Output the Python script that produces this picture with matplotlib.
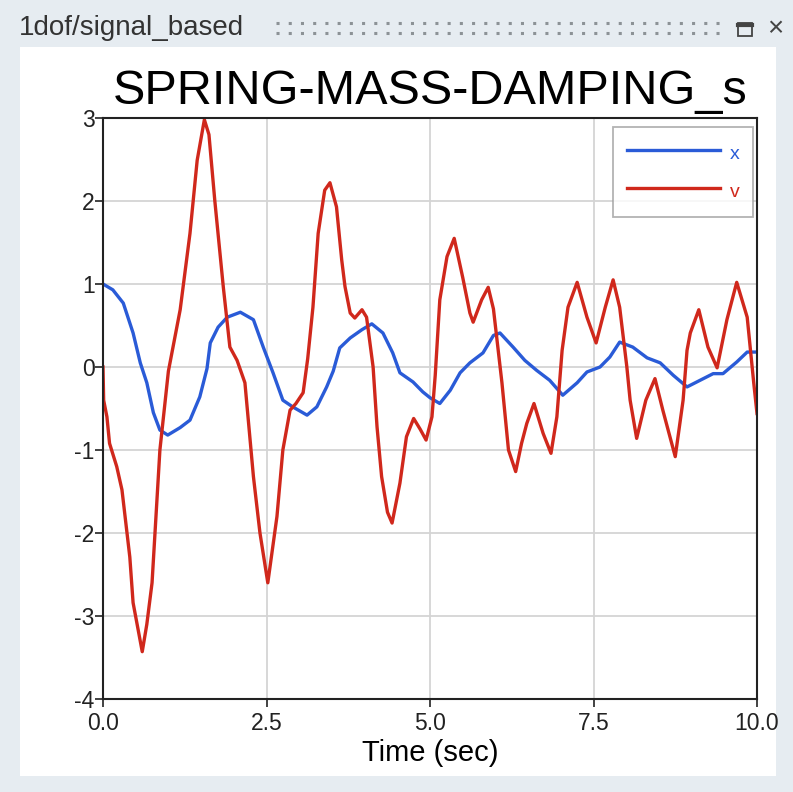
### Imports ###
import matplotlib
matplotlib.use('Agg')
import matplotlib.pyplot as plt
from matplotlib.patches import Rectangle
from matplotlib.lines import Line2D

### Data ###
# Displacement x(t)
t_x = [0.0, 0.15, 0.31, 0.46, 0.57, 0.67, 0.77, 0.87, 0.99, 1.18, 1.33, 1.48,
       1.59, 1.64, 1.76, 1.9, 2.1, 2.3, 2.45, 2.6, 2.75, 2.9, 3.12, 3.27,
       3.42, 3.52, 3.62, 3.78, 3.96, 4.11, 4.28, 4.43, 4.54, 4.74, 4.89, 5.0,
       5.15, 5.31, 5.46, 5.61, 5.81, 5.97, 6.07, 6.27, 6.45, 6.63, 6.83, 7.03,
       7.25, 7.4, 7.6, 7.75, 7.9, 8.1, 8.32, 8.52, 8.72, 8.93, 9.13, 9.33,
       9.48, 9.69, 9.85, 10.0]
x_vals = [1.0, 0.93, 0.77, 0.41, 0.05, -0.19, -0.55, -0.76, -0.82, -0.73,
          -0.64, -0.36, -0.02, 0.29, 0.48, 0.6, 0.66, 0.57, 0.24, -0.07, -0.4,
          -0.48, -0.58, -0.48, -0.24, -0.05, 0.23, 0.35, 0.45, 0.52, 0.41,
          0.17, -0.07, -0.18, -0.3, -0.37, -0.44, -0.28, -0.07, 0.05, 0.17,
          0.38, 0.41, 0.24, 0.08, -0.04, -0.16, -0.34, -0.19, -0.06, 0.0,
          0.12, 0.3, 0.24, 0.11, 0.05, -0.1, -0.24, -0.16, -0.08, -0.08, 0.06,
          0.18, 0.18]

# Velocity v(t)
t_v = [0.0, 0.01, 0.06, 0.1, 0.21, 0.29, 0.41, 0.46, 0.6, 0.67, 0.75, 0.87,
       1.0, 1.18, 1.33, 1.44, 1.55, 1.62, 1.71, 1.84, 1.94, 2.05, 2.17, 2.3,
       2.4, 2.52, 2.66, 2.75, 2.86, 2.95, 3.06, 3.13, 3.21, 3.29, 3.39, 3.47,
       3.57, 3.65, 3.7, 3.78, 3.85, 3.96, 4.03, 4.13, 4.19, 4.26, 4.35, 4.42,
       4.54, 4.64, 4.75, 4.85, 4.94, 5.03, 5.08, 5.15, 5.26, 5.37, 5.5, 5.61,
       5.66, 5.79, 5.89, 5.97, 6.1, 6.2, 6.31, 6.4, 6.48, 6.59, 6.73, 6.85,
       6.94, 7.02, 7.11, 7.25, 7.4, 7.54, 7.68, 7.8, 7.9, 8.01, 8.06, 8.16,
       8.3, 8.44, 8.56, 8.75, 8.87, 8.93, 8.98, 9.11, 9.25, 9.39, 9.54, 9.69,
       9.85, 9.95, 10.0]
v_vals = [0.0, -0.4, -0.6, -0.92, -1.2, -1.48, -2.29, -2.84, -3.43, -3.1,
          -2.6, -1.0, -0.05, 0.69, 1.61, 2.49, 2.98, 2.8, 2.0, 0.96, 0.24,
          0.08, -0.19, -1.32, -2.0, -2.6, -1.8, -1.0, -0.52, -0.44, -0.31,
          0.1, 0.72, 1.61, 2.13, 2.22, 1.93, 1.29, 0.97, 0.65, 0.59, 0.69,
          0.6, 0.0, -0.72, -1.32, -1.75, -1.88, -1.4, -0.84, -0.62, -0.75,
          -0.88, -0.6, -0.1, 0.81, 1.33, 1.55, 1.08, 0.65, 0.54, 0.81, 0.96,
          0.7, -0.19, -1.0, -1.26, -0.92, -0.68, -0.44, -0.8, -1.04, -0.6,
          0.2, 0.72, 1.02, 0.6, 0.29, 0.72, 1.05, 0.72, 0.0, -0.4, -0.86,
          -0.4, -0.14, -0.52, -1.08, -0.4, 0.2, 0.41, 0.69, 0.24, -0.01, 0.57,
          1.02, 0.6, -0.19, -0.56]

x_ticks = [0.0, 2.5, 5.0, 7.5, 10.0]
x_tick_labels = ['0.0', '2.5', '5.0', '7.5', '10.0']
y_ticks = [3, 2, 1, 0, -1, -2, -3, -4]

### Style ###
plt.rcParams['font.family'] = ['Liberation Sans', 'DejaVu Sans']
BLUE = '#2a5bd7'
RED = '#d0281c'
W, H = 793, 792

### Figure ###
fig = plt.figure(figsize=(W / 100, H / 100), dpi=100, facecolor='#e6ecf1')

# White panel behind the plot
fig.patches.append(Rectangle((20 / W, 1 - 776 / H), 756 / W, 729 / H,
                             transform=fig.transFigure, facecolor='white',
                             edgecolor='none', zorder=-5))

# Window title bar
fig.text(19 / W, 1 - 28 / H, '1dof/signal_based', fontsize=20,
         color='#333333', va='center', ha='left')
# Grip dots (two rows)
for yy in (23, 33):
    fig.add_artist(Line2D([276 / W, 724 / W], [1 - yy / H] * 2,
                          transform=fig.transFigure, color='#8c9296', lw=2.2,
                          linestyle=(0, (1, 3))))
fig.patches.append(Rectangle((738 / W, 1 - 36 / H), 14 / W, 13 / H,
                             transform=fig.transFigure, facecolor='none',
                             edgecolor='#444444', lw=1.3))
fig.add_artist(Line2D([738 / W, 752 / W], [1 - 24.5 / H] * 2,
                      transform=fig.transFigure, color='#444444', lw=3))
fig.text(775 / W, 1 - 29 / H, '×', fontsize=20, color='#444444',
         va='center', ha='center')

# Plot area
ax = fig.add_axes([103 / W, 1 - 699 / H, 654 / W, 581 / H])
ax.set_zorder(2)
ax.plot(t_x, x_vals, color=BLUE, lw=2.4, label='x')
ax.plot(t_v, v_vals, color=RED, lw=2.4, label='v')

ax.set_xlim(0, 10)
ax.set_ylim(-4, 3)
ax.set_xticks(x_ticks, x_tick_labels)
ax.set_yticks(y_ticks, [str(v) for v in y_ticks])
ax.grid(True, color='#d4d4d4', lw=1.3)
ax.set_axisbelow(True)
for sp in ax.spines.values():
    sp.set_color('#222222')
    sp.set_linewidth(1.5)
ax.tick_params(direction='out', length=6, width=1.2, labelsize=16.5,
               colors='#222222')
ax.tick_params(axis='x', pad=3)
ax.tick_params(axis='y', pad=0)

ax.set_title('SPRING-MASS-DAMPING_s', fontsize=35, pad=10)
ax.set_xlabel('Time (sec)', fontsize=21, labelpad=3)

leg = ax.legend(loc='upper right', bbox_to_anchor=(0.9939, 0.9845),
                fontsize=14, frameon=True, fancybox=False,
                handlelength=4.8, handleheight=1.6, borderaxespad=0,
                labelspacing=0.65, handletextpad=0.5, borderpad=0.7)
leg.get_frame().set_edgecolor('#a0a0a0')
leg.get_frame().set_linewidth(1.3)
for txt, col in zip(leg.get_texts(), (BLUE, RED)):
    txt.set_color(col)

fig.savefig('out.png', dpi=100, facecolor=fig.get_facecolor())
